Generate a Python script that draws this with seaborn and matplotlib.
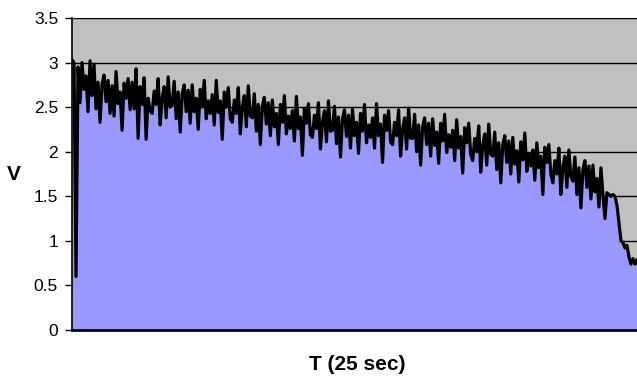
import matplotlib
matplotlib.use("Agg")
import matplotlib.pyplot as plt
import seaborn as sns
import pandas as pd
import numpy as np

# voltage samples (one every ~2 px)
volts = [
    3.03, 3.00, 0.60, 2.95, 2.55, 3.00, 2.70, 2.85, 2.45, 3.02,
    2.63, 2.98, 2.48, 2.78, 2.33, 2.76, 2.86, 2.56, 2.80, 2.43,
    2.74, 2.40, 2.90, 2.54, 2.67, 2.24, 2.77, 2.60, 2.82, 2.47,
    2.78, 2.48, 2.93, 2.15, 2.73, 2.53, 2.83, 2.14, 2.60, 2.46,
    2.43, 2.68, 2.53, 2.82, 2.30, 2.60, 2.73, 2.38, 2.84, 2.50,
    2.52, 2.79, 2.37, 2.67, 2.22, 2.65, 2.75, 2.45, 2.69, 2.32,
    2.75, 2.45, 2.60, 2.25, 2.70, 2.50, 2.80, 2.37, 2.57, 2.43,
    2.64, 2.30, 2.80, 2.44, 2.57, 2.14, 2.67, 2.50, 2.72, 2.37,
    2.33, 2.58, 2.43, 2.72, 2.20, 2.50, 2.63, 2.28, 2.74, 2.40,
    2.38, 2.65, 2.23, 2.53, 2.08, 2.51, 2.61, 2.31, 2.55, 2.18,
    2.58, 2.28, 2.43, 2.08, 2.53, 2.33, 2.63, 2.20, 2.40, 2.26,
    2.46, 2.12, 2.62, 2.26, 2.39, 1.96, 2.49, 2.32, 2.54, 2.19,
    2.16, 2.41, 2.26, 2.55, 2.03, 2.33, 2.46, 2.11, 2.57, 2.23,
    2.24, 2.51, 2.09, 2.39, 1.94, 2.37, 2.47, 2.17, 2.41, 2.04,
    2.48, 2.18, 2.33, 1.98, 2.43, 2.23, 2.53, 2.10, 2.30, 2.16,
    2.38, 2.04, 2.54, 2.18, 2.31, 1.88, 2.41, 2.24, 2.46, 2.11,
    2.08, 2.33, 2.18, 2.47, 1.95, 2.25, 2.38, 2.03, 2.49, 2.15,
    2.15, 2.42, 2.00, 2.30, 1.85, 2.28, 2.38, 2.08, 2.32, 1.95,
    2.37, 2.07, 2.22, 1.87, 2.32, 2.12, 2.42, 1.99, 2.19, 2.05,
    2.24, 1.90, 2.36, 2.04, 2.17, 1.76, 2.27, 2.10, 2.32, 1.97,
    1.90, 2.15, 2.00, 2.29, 1.77, 2.07, 2.20, 1.85, 2.31, 1.97,
    1.95, 2.22, 1.80, 2.10, 1.65, 2.08, 2.18, 1.88, 2.12, 1.75,
    2.16, 1.86, 2.01, 1.66, 2.11, 1.91, 2.21, 1.78, 1.98, 1.84,
    2.02, 1.68, 2.10, 1.82, 1.95, 1.52, 2.05, 1.88, 2.08, 1.75,
    1.65, 1.90, 1.75, 2.04, 1.52, 1.82, 1.95, 1.60, 2.02, 1.72,
    1.67, 1.94, 1.52, 1.82, 1.37, 1.80, 1.90, 1.60, 1.84, 1.47,
    1.85, 1.55, 1.70, 1.38, 1.82, 1.52, 1.25, 1.54, 1.52, 1.50,
    1.52, 1.50, 1.40, 1.20, 1.00, 0.98, 0.92, 0.95, 0.82, 0.74,
    0.80, 0.74, 0.79,
]
y_ticks = [0, 0.5, 1, 1.5, 2, 2.5, 3, 3.5]
y_tick_labels = ["0", "0.5", "1", "1.5", "2", "2.5", "3", "3.5"]

df = pd.DataFrame({"t": np.arange(len(volts)), "V": volts})

sns.set_theme(style="white")
plt.rcParams["font.family"] = ["Liberation Sans", "DejaVu Sans"]

fig = plt.figure(figsize=(6.37, 3.77), dpi=100)
ax = fig.add_axes([72 / 637, 47 / 377, 565 / 637, 312 / 377])
ax.set_facecolor("#C0C0C0")

# gridlines sit behind the filled area
for yv in y_ticks:
    ax.axhline(yv, color="black", linewidth=1.0, zorder=1)

ax.fill_between(df["t"], 0, df["V"], color="#9999FF", zorder=2, linewidth=0)
sns.lineplot(x="t", y="V", data=df, color="black", linewidth=2.3, ax=ax, zorder=3)

ax.set_xlim(0, len(volts) - 1)
ax.set_ylim(0, 3.5)
ax.set_yticks(y_ticks)
ax.set_yticklabels(y_tick_labels)
ax.set_xticks([])
ax.tick_params(axis="y", direction="out", length=5, width=1, pad=5,
               labelsize=12.5, left=True, color="black", labelcolor="black")

for s in ["top", "right"]:
    ax.spines[s].set_visible(False)
ax.spines["left"].set_color("black")
ax.spines["left"].set_linewidth(1.2)
ax.spines["bottom"].set_color("black")
ax.spines["bottom"].set_linewidth(2)

ax.set_xlabel("")
ax.set_ylabel("")
fig.text(357 / 637, 1 - 365 / 377, "T (25 sec)", ha="center", va="center",
         fontsize=15, fontweight="bold", color="black")
fig.text(14 / 637, 1 - 174 / 377, "V", ha="center", va="center",
         fontsize=15, fontweight="bold", color="black")

fig.savefig("out.png", dpi=100)
